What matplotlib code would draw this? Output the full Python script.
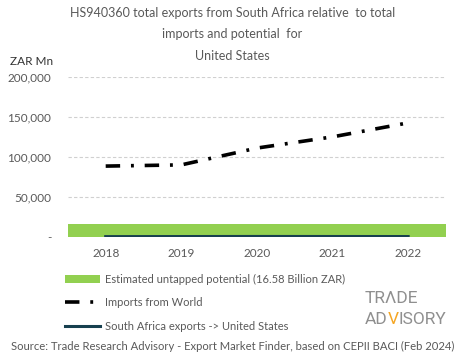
import matplotlib.pyplot as plt
import numpy as np

# chart data (ZAR Mn)
years = ['2018', '2019', '2020', '2021', '2022']
imports_world = [88500, 90000, 111000, 125000, 142500]
sa_exports = [400, 500, 600, 550, 500]
untapped_potential = 16580
yticks = [0, 50000, 100000, 150000, 200000]
ytick_labels = ['-', '50,000', '100,000', '150,000', '200,000']

plt.rcParams['font.family'] = ['Lato', 'DejaVu Sans']
grey = '#595959'

fig = plt.figure(figsize=(4.65, 3.59), dpi=100)
ax = fig.add_axes([0.146, 0.340, 0.813, 0.446])

x = np.arange(len(years))

# untapped potential as a band across the whole period
bar = ax.bar(x.mean(), untapped_potential, width=len(years), color='#92d050', zorder=2)
imp, = ax.plot(x, imports_world, color='black', lw=2.6, linestyle=(0, (4, 3, 0.8, 3)),
               zorder=3)
sa, = ax.plot(x, sa_exports, color='#17404f', lw=2.2, zorder=3)

ax.set_xlim(-0.5, len(years) - 0.5)
ax.set_ylim(0, 200000)
ax.set_xticks(x)
ax.set_xticklabels(years)
ax.set_yticks(yticks)
ax.set_yticklabels(ytick_labels)
ax.tick_params(length=0, colors=grey, labelsize=8.5)
ax.tick_params(axis='x', pad=8)
ax.tick_params(axis='y', pad=12)
for s in ax.spines.values():
    s.set_visible(False)
ax.yaxis.grid(True, linestyle=(0, (3, 2)), color='#d0d0d0', lw=0.8, zorder=0)

fig.text(0.5, 0.965, 'HS940360 total exports from South Africa relative  to total',
         ha='center', va='center', color=grey, fontsize=9)
fig.text(0.5, 0.905, 'imports and potential  for', ha='center', va='center',
         color=grey, fontsize=9)
fig.text(0.5, 0.845, 'United States', ha='center', va='center', color=grey, fontsize=9)
fig.text(0.022, 0.828, 'ZAR Mn', ha='left', va='center', color='#333333', fontsize=8.5)

fig.legend([bar, imp, sa],
           ['Estimated untapped potential (16.58 Billion ZAR)', 'Imports from World',
            'South Africa exports -> United States'],
           loc='upper left', bbox_to_anchor=(0.13, 0.25),
           frameon=False, fontsize=8, labelcolor=grey, handlelength=3.2,
           handletextpad=0.4, labelspacing=1.12, borderaxespad=0)

# logo: TRADE / ADVISORY with an orange V
logo_grey = '#8f8f8f'
fig.canvas.draw()
renderer = fig.canvas.get_renderer()


def put_pieces(pieces, x0, y0, size):
    xpos = x0
    for txt, col in pieces:
        t = fig.text(xpos, y0, txt, ha='left', va='baseline', color=col,
                     fontsize=size, family='Roboto')
        w = t.get_window_extent(renderer).width / fig.bbox.width
        xpos += w
    return xpos


put_pieces([('TR\u039bDE', logo_grey)], 0.785, 0.157, 12.5)
put_pieces([('AD', logo_grey), ('V', '#f5a623'), ('ISORY', logo_grey)], 0.785, 0.098, 12.5)

fig.text(0.5, 0.035, 'Source: Trade Research Advisory - Export Market Finder, based on CEPII BACI (Feb 2024)',
         ha='center', va='center', color=grey, fontsize=8.1)

fig.savefig('out.png', dpi=100)
